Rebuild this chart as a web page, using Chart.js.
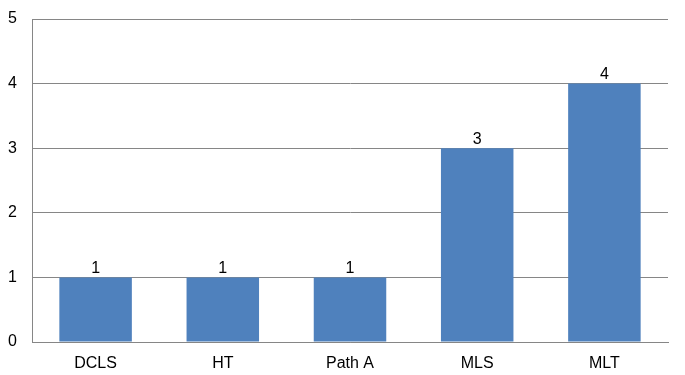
<!DOCTYPE html>
<html lang="en">
<head>
    <meta charset="UTF-8">
    <title>Bar chart</title>
    <script src="https://cdn.jsdelivr.net/npm/chart.js"></script>
    <style>
        body { margin: 0; padding: 0; background: #fff; }
        #wrap { width: 685px; height: 375px; }
    </style>
</head>
<body>
    <div id="wrap"><canvas id="chart"></canvas></div>
    <script>
        var categories = ['DCLS', 'HT', 'Path A', 'MLS', 'MLT'];
        var values = [1, 1, 1, 3, 4];
        var yTicks = [0, 1, 2, 3, 4, 5];

        // draw value labels above each bar
        var valueLabels = {
            id: 'valueLabels',
            afterDatasetsDraw: function(chart) {
                var ctx = chart.ctx;
                var meta = chart.getDatasetMeta(0);
                ctx.save();
                ctx.font = '16px "Liberation Sans", Arial, sans-serif';
                ctx.fillStyle = '#000';
                ctx.textAlign = 'center';
                ctx.textBaseline = 'bottom';
                meta.data.forEach(function(bar, i) {
                    ctx.fillText(String(values[i]), bar.x, bar.y - 1);
                });
                ctx.restore();
            }
        };

        new Chart(document.getElementById('chart'), {
            type: 'bar',
            data: {
                labels: categories,
                datasets: [{
                    data: values,
                    backgroundColor: '#4F81BD',
                    barPercentage: 0.57,
                    categoryPercentage: 1
                }]
            },
            options: {
                responsive: true,
                maintainAspectRatio: false,
                animation: false,
                layout: { padding: { top: 19, right: 17, left: 0, bottom: 0 } },
                plugins: { legend: { display: false }, tooltip: { enabled: false } },
                scales: {
                    x: {
                        grid: { display: false },
                        border: { color: '#868686', width: 1 },
                        ticks: { color: '#000', padding: 4, font: { family: '"Liberation Sans", Arial', size: 16 } },
                        afterFit: function(s) { s.height = 33; s.paddingLeft = 0; s.paddingRight = 0; }
                    },
                    y: {
                        min: 0,
                        max: 5,
                        afterBuildTicks: function(s) { s.ticks = yTicks.map(function(v) { return { value: v }; }); },
                        grid: { color: '#868686', drawTicks: false },
                        border: { color: '#868686', width: 1 },
                        ticks: { color: '#000', padding: 15, font: { family: '"Liberation Sans", Arial', size: 16 } },
                        afterFit: function(s) { s.width = 32; s.paddingTop = 0; s.paddingBottom = 0; }
                    }
                }
            },
            plugins: [valueLabels]
        });
    </script>
</body>
</html>
